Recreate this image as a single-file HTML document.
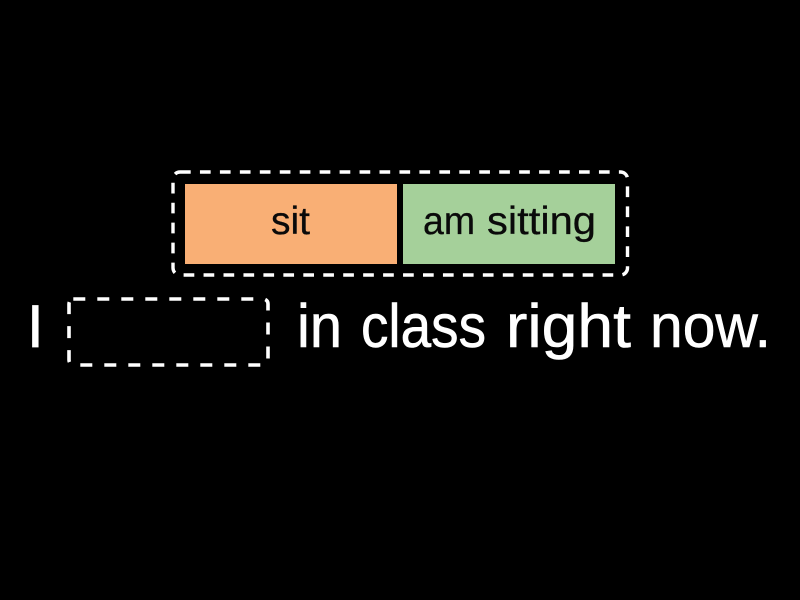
<!DOCTYPE html>
<html>
<head>
<meta charset="utf-8">
<style>
html,body{margin:0;padding:0;background:#000;width:800px;height:600px;overflow:hidden}
svg{display:block}
text{font-family:"Liberation Sans",sans-serif}
</style>
</head>
<body>
<svg width="800" height="600" viewBox="0 0 800 600" xmlns="http://www.w3.org/2000/svg">
<rect width="800" height="600" fill="#000"/>
<path d="M180 172H620.500a7 7 0 0 1 7 7V268a7 7 0 0 1 -7 7H180a7 7 0 0 1 -7 -7V179a7 7 0 0 1 7 -7Z" fill="none" stroke="#fff" stroke-width="3.400" stroke-dasharray="10.7 9.25"/>
<rect x="185" y="184" width="212" height="80" fill="#F9AF75"/>
<rect x="403" y="184" width="212" height="80" fill="#A5D09A"/>
<text x="271" y="234" font-size="39" fill="#0a0a0a" stroke="#0a0a0a" stroke-width="0.300" textLength="39" lengthAdjust="spacingAndGlyphs">sit</text>
<text x="423" y="234" font-size="39" fill="#0a0a0a" stroke="#0a0a0a" stroke-width="0.300" textLength="52" lengthAdjust="spacingAndGlyphs">am</text>
<text x="487" y="234" font-size="39" fill="#0a0a0a" stroke="#0a0a0a" stroke-width="0.300" textLength="109" lengthAdjust="spacingAndGlyphs">sitting</text>
<text x="27" y="347" font-size="60" fill="#fff" stroke="#fff" stroke-width="0.800">I</text>
<path d="M73.300 299H263a5 5 0 0 1 5 5V360a5 5 0 0 1 -5 5H74a5 5 0 0 1 -5 -5V304a5 5 0 0 1 4.300 -5Z" fill="none" stroke="#fff" stroke-width="3.600" stroke-dasharray="12 12"/>
<text x="297" y="347" font-size="61" fill="#fff" stroke="#fff" stroke-width="0.600" textLength="45" lengthAdjust="spacingAndGlyphs">in</text>
<text x="361" y="347" font-size="61" fill="#fff" stroke="#fff" stroke-width="0.600" textLength="125" lengthAdjust="spacingAndGlyphs">class</text>
<text x="506" y="347" font-size="61" fill="#fff" stroke="#fff" stroke-width="0.600" textLength="125" lengthAdjust="spacingAndGlyphs">right</text>
<text x="650" y="347" font-size="61" fill="#fff" stroke="#fff" stroke-width="0.600" textLength="121" lengthAdjust="spacingAndGlyphs">now.</text>
</svg>
</body>
</html>
